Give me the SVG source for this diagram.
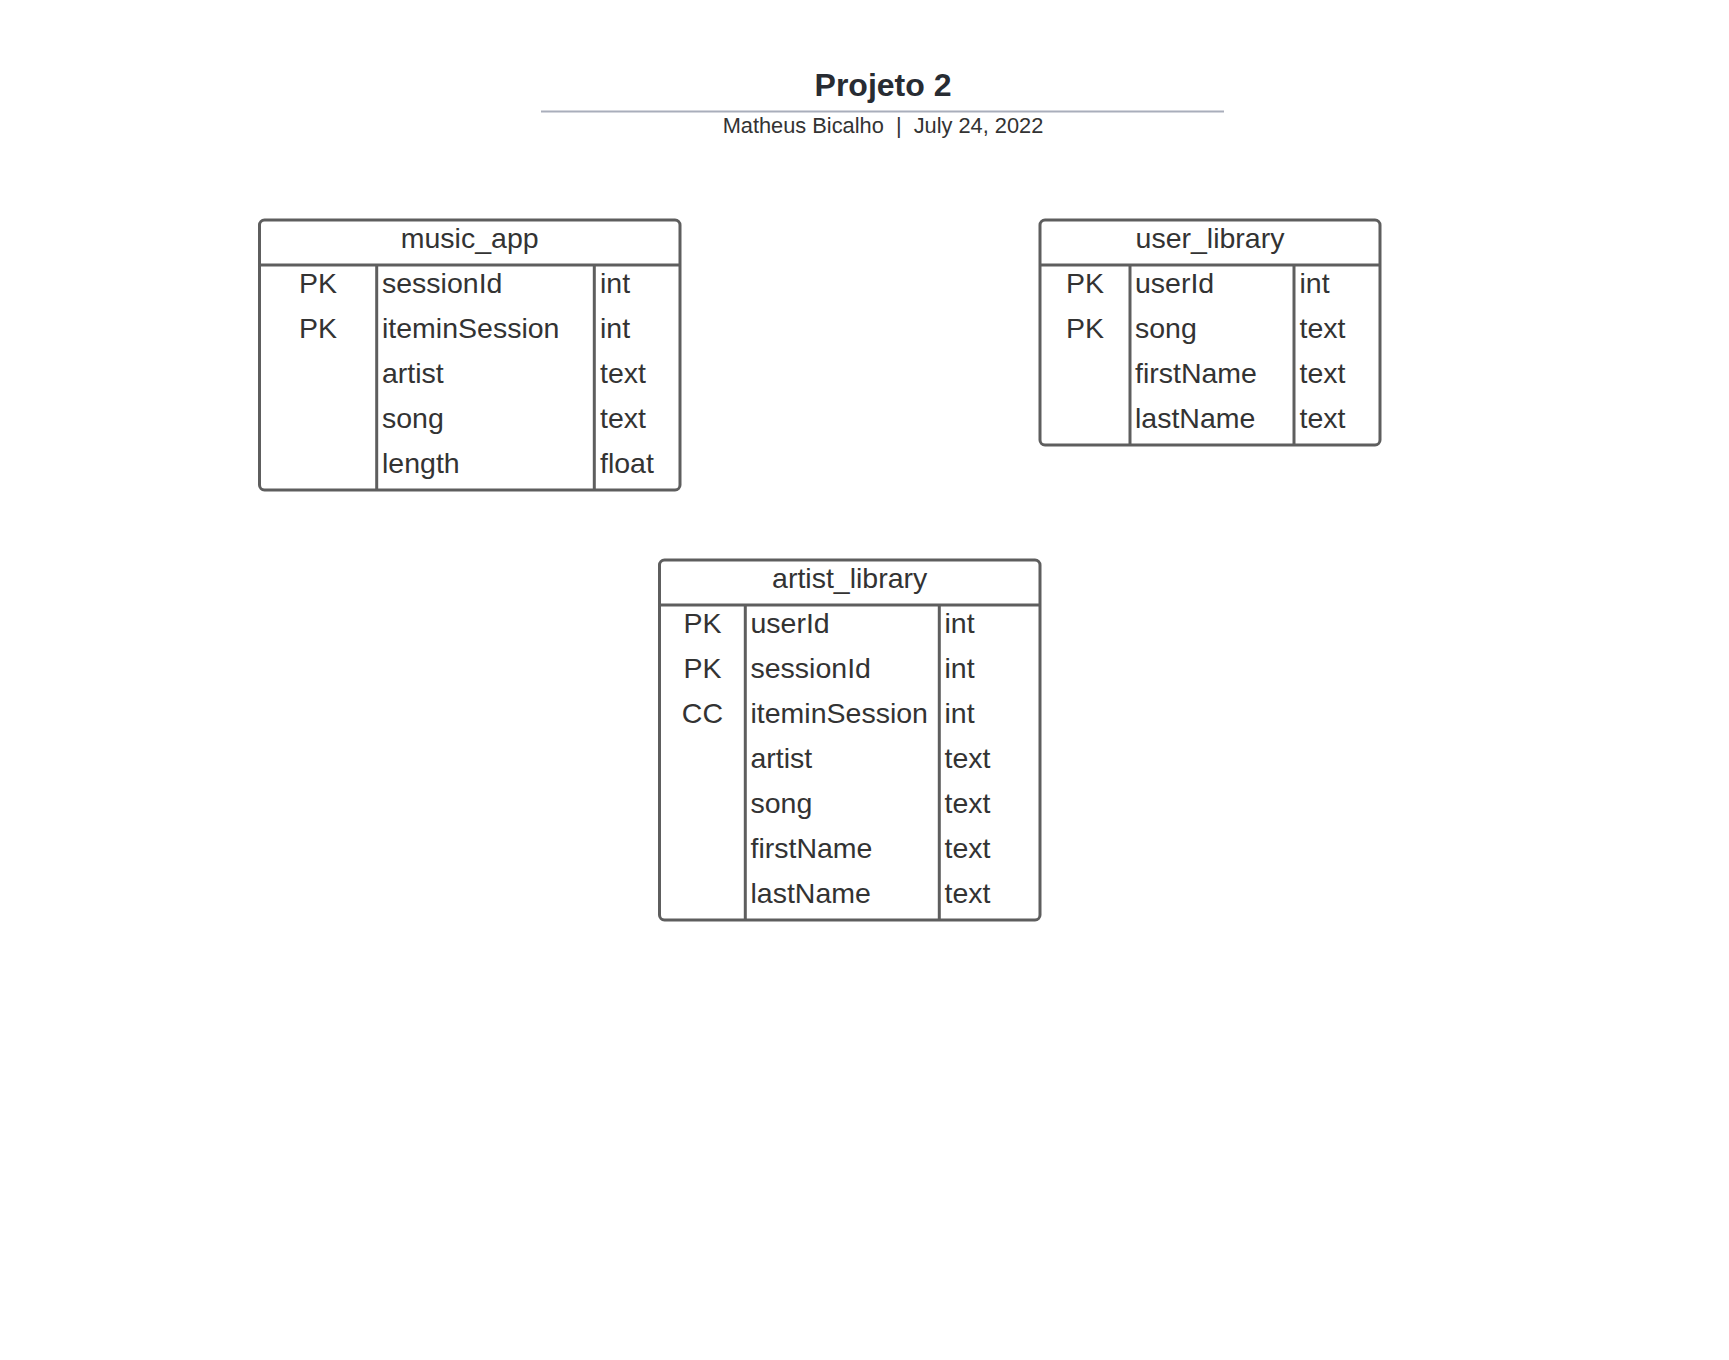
<svg xmlns="http://www.w3.org/2000/svg" width="1729" height="1360" viewBox="0 0 1729 1360">
<style>
.bg{fill:#ffffff}
.box{fill:#ffffff;stroke:#5e5e5e;stroke-width:3}
.ln{stroke:#5e5e5e;stroke-width:3;fill:none}
.t{font-family:"Liberation Sans",Arial,sans-serif;font-size:28.5px;fill:#333333}
.c{text-anchor:middle}
.title{font-family:"Liberation Sans",Arial,sans-serif;font-size:32px;font-weight:bold;fill:#282c33;text-anchor:middle}
.sub{font-family:"Liberation Sans",Arial,sans-serif;font-size:21.8px;fill:#333333;text-anchor:middle;white-space:pre}
</style>
<rect class="bg" x="0" y="0" width="1729" height="1360"/>
<g id="header">
<text class="title" x="883" y="95.5">Projeto 2</text>
<line x1="541" y1="111.5" x2="1224" y2="111.5" stroke="#a9aebb" stroke-width="2"/>
<text class="sub" x="883" y="133" xml:space="preserve">Matheus Bicalho  |  July 24, 2022</text>
</g>
<g id="music_app">
<rect class="box" x="259.5" y="220" width="420.5" height="270" rx="5"/>
<line class="ln" x1="259.5" y1="265" x2="680" y2="265"/>
<line class="ln" x1="376.7" y1="265" x2="376.7" y2="490"/>
<line class="ln" x1="594.3" y1="265" x2="594.3" y2="490"/>
<text class="t c" x="469.7" y="247.5">music_app</text>
<text class="t c" x="318" y="292.5">PK</text>
<text class="t c" x="318" y="337.5">PK</text>
<text class="t" x="382" y="292.5">sessionId</text>
<text class="t" x="382" y="337.5">iteminSession</text>
<text class="t" x="382" y="382.5">artist</text>
<text class="t" x="382" y="427.5">song</text>
<text class="t" x="382" y="472.5">length</text>
<text class="t" x="600" y="292.5">int</text>
<text class="t" x="600" y="337.5">int</text>
<text class="t" x="600" y="382.5">text</text>
<text class="t" x="600" y="427.5">text</text>
<text class="t" x="600" y="472.5">float</text>
</g>
<g id="user_library">
<rect class="box" x="1040" y="220" width="340" height="225" rx="5"/>
<line class="ln" x1="1040" y1="265" x2="1380" y2="265"/>
<line class="ln" x1="1130" y1="265" x2="1130" y2="445"/>
<line class="ln" x1="1294" y1="265" x2="1294" y2="445"/>
<text class="t c" x="1210" y="247.5">user_library</text>
<text class="t c" x="1085" y="292.5">PK</text>
<text class="t c" x="1085" y="337.5">PK</text>
<text class="t" x="1135" y="292.5">userId</text>
<text class="t" x="1135" y="337.5">song</text>
<text class="t" x="1135" y="382.5">firstName</text>
<text class="t" x="1135" y="427.5">lastName</text>
<text class="t" x="1299.5" y="292.5">int</text>
<text class="t" x="1299.5" y="337.5">text</text>
<text class="t" x="1299.5" y="382.5">text</text>
<text class="t" x="1299.5" y="427.5">text</text>
</g>
<g id="artist_library">
<rect class="box" x="659.5" y="560" width="380.5" height="360" rx="5"/>
<line class="ln" x1="659.5" y1="605" x2="1040" y2="605"/>
<line class="ln" x1="745.3" y1="605" x2="745.3" y2="920"/>
<line class="ln" x1="939.3" y1="605" x2="939.3" y2="920"/>
<text class="t c" x="849.7" y="587.5">artist_library</text>
<text class="t c" x="702.4" y="632.5">PK</text>
<text class="t c" x="702.4" y="677.5">PK</text>
<text class="t c" x="702.4" y="722.5">CC</text>
<text class="t" x="750.5" y="632.5">userId</text>
<text class="t" x="750.5" y="677.5">sessionId</text>
<text class="t" x="750.5" y="722.5">iteminSession</text>
<text class="t" x="750.5" y="767.5">artist</text>
<text class="t" x="750.5" y="812.5">song</text>
<text class="t" x="750.5" y="857.5">firstName</text>
<text class="t" x="750.5" y="902.5">lastName</text>
<text class="t" x="944.5" y="632.5">int</text>
<text class="t" x="944.5" y="677.5">int</text>
<text class="t" x="944.5" y="722.5">int</text>
<text class="t" x="944.5" y="767.5">text</text>
<text class="t" x="944.5" y="812.5">text</text>
<text class="t" x="944.5" y="857.5">text</text>
<text class="t" x="944.5" y="902.5">text</text>
</g>
<g id="connectors"></g>
</svg>
